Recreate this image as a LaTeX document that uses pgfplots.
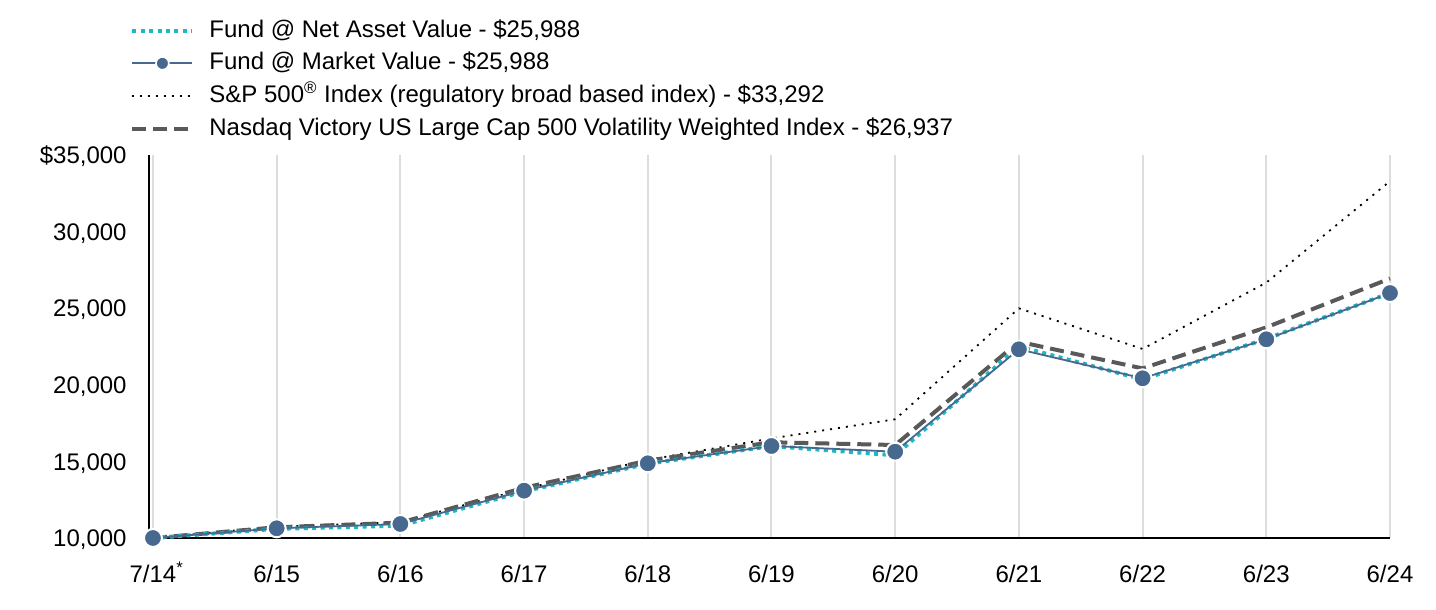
\documentclass[border=0pt]{standalone}
\usepackage{pgfplots}
\pgfplotsset{compat=1.18}
\usepackage{pgfplotstable}
\usepackage{fontspec}
\setmainfont{Liberation Sans}
\definecolor{navc}{HTML}{1FB8C0}
\definecolor{mktc}{HTML}{48698F}
\definecolor{ndqc}{HTML}{595959}
\definecolor{gridc}{HTML}{DDDDDD}
\pgfplotstableread{
x NAV MKT SP NDQ
0 10000 10000 10000 10000
1 10600 10633 10740 10700
2 10800 10914 11030 11000
3 13050 13090 13200 13280
4 14850 14875 15100 15050
5 16000 16005 16500 16250
6 15400 15633 17750 16070
7 22500 22317 24990 22810
8 20350 20424 22340 21070
9 23000 22970 26670 23750
10 25988 25988 33292 26937
}\data
\begin{document}
\begin{tikzpicture}
\begin{axis}[
  at={(74.5bp,36bp)}, anchor=south west,
  scale only axis, width=620.5bp, height=191.5bp,
  xmin=-0.032, xmax=10, ymin=10000, ymax=35000,
  axis x line*=bottom, axis y line*=left,
  axis line style={black, line width=0.8bp, -},
  major tick length=0pt,
  scaled ticks=false,
  xtick={0,...,10},
  xticklabels={7/14\rlap{\textsuperscript{*}},6/15,6/16,6/17,6/18,6/19,6/20,6/21,6/22,6/23,6/24},
  ytick={10000,15000,20000,25000,30000,35000},
  yticklabels={{10,000},{15,000},{20,000},{25,000},{30,000},{\$35,000}},
  font=\fontsize{12bp}{14bp}\selectfont,
  xticklabel style={anchor=north, inner sep=0pt, text height=8.8bp, yshift=-13bp},
  yticklabel style={anchor=base east, inner sep=0pt, xshift=-11bp, yshift=-4.3bp},
  xmajorgrids, ymajorgrids=false,
  major grid style={gridc, line width=1bp},
  clip=false,
  legend cell align=left,
  legend style={draw=none, fill=none, at={(-0.0153,1.356)}, anchor=north west,
    inner sep=0pt, row sep=4.9bp,
    nodes={inner sep=0pt, text height=9bp, text depth=2.5bp},
    font=\fontsize{12bp}{14bp}\selectfont,
    /tikz/every odd column/.append style={column sep=7.5bp}},
  legend image code/.code={\draw[mark repeat=2,mark phase=2,#1] plot coordinates {(0bp,0bp) (15bp,0bp) (30bp,0bp)};},
]
\addlegendimage{navc, line width=2bp, dash pattern=on 2bp off 2.2bp}
\addlegendentry{Fund @ Net Asset Value - \$25,988}
\addlegendimage{mktc, line width=0.9bp, mark=*, mark size=3.2bp, mark options={fill=mktc, draw=white, line width=0.8bp, solid}}
\addlegendentry{Fund @ Market Value - \$25,988}
\addlegendimage{black, line width=0.9bp, dash pattern=on 1bp off 3bp}
\addlegendentry{S\&P 500\textsuperscript{®} Index (regulatory broad based index) - \$33,292}
\addlegendimage{ndqc, line width=2bp, dash pattern=on 7bp off 3.5bp}
\addlegendentry{Nasdaq Victory US Large Cap 500 Volatility Weighted Index - \$26,937}

\addplot[forget plot, black, line width=0.9bp, dash pattern=on 1bp off 3bp] table[x=x,y=SP] {\data};
\addplot[forget plot, ndqc, line width=2bp, dash pattern=on 7bp off 3.5bp] table[x=x,y=NDQ] {\data};
\addplot[forget plot, navc, line width=2bp, dash pattern=on 2bp off 2.2bp] table[x=x,y=NAV] {\data};
\addplot[forget plot, mktc, line width=0.9bp, mark=*, mark size=4.5bp, mark options={fill=mktc, draw=white, line width=1bp, solid}] table[x=x,y=MKT] {\data};
\end{axis}
\pgfresetboundingbox
\useasboundingbox (0,0) rectangle (718bp,305bp);
\end{tikzpicture}
\end{document}
